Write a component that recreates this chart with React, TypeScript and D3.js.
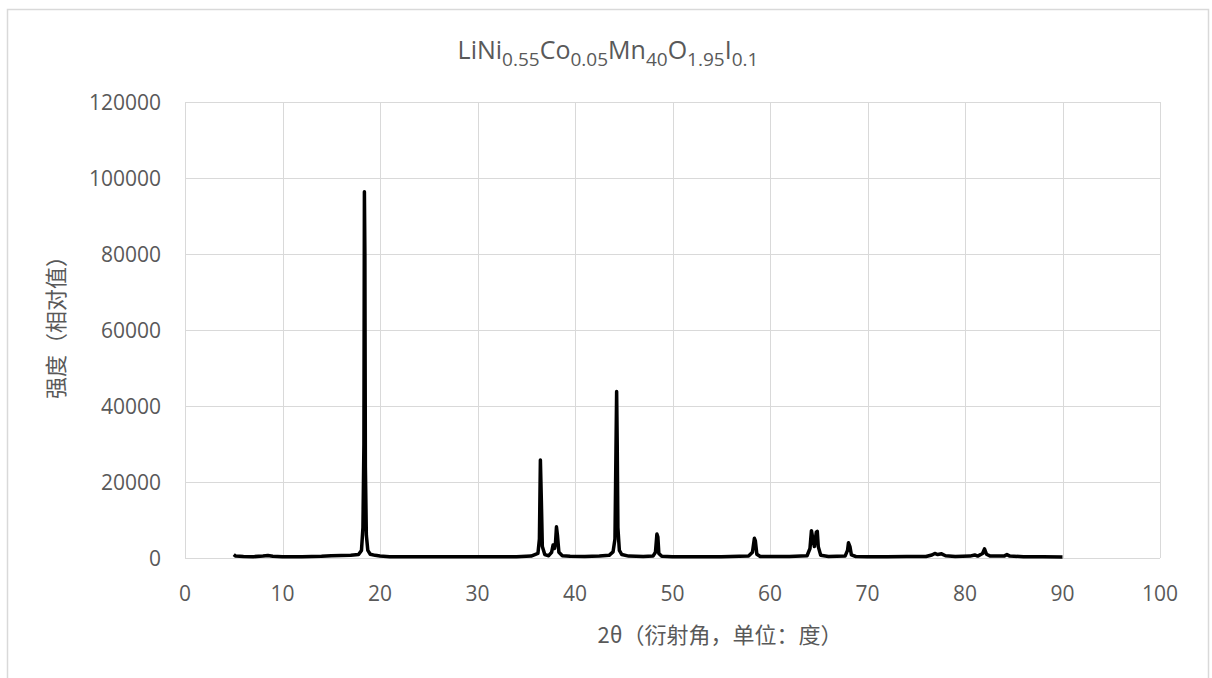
import React from "react";
import * as d3 from "d3";

const twoTheta = [
  5.0, 5.2, 6, 7, 8, 8.5, 9, 10, 11, 12, 13, 14, 15, 16, 17, 17.8, 18.1, 18.25, 18.35, 18.4, 18.45, 18.5, 18.6, 18.75, 19.0, 19.5, 20, 21, 22, 25, 28, 30, 32, 34,
  35.5, 36.2, 36.35, 36.45, 36.55, 36.65, 36.9, 37.3, 37.6, 37.75, 37.9, 38.0, 38.1, 38.2, 38.35, 38.7, 39.5, 41, 42.5, 43.5, 43.9, 44.1, 44.2, 44.27, 44.33, 44.4,
  44.55, 44.8, 45.5, 47, 48, 48.25, 48.4, 48.5, 48.6, 48.9, 50, 52, 55, 57.8, 58.2, 58.4, 58.5, 58.65, 59, 60, 62, 63.8, 64.1, 64.25, 64.4, 64.55, 64.75, 64.85,
  64.95, 65.2, 66, 67.7, 67.95, 68.05, 68.2, 68.35, 68.8, 70, 72, 74, 76, 76.6, 76.9, 77.2, 77.6, 78, 79, 80.5, 81, 81.3, 81.8, 82.0, 82.2, 82.6, 84, 84.3, 84.6,
  86, 88, 90,
];
const intensity = [
  900, 500, 400, 350, 500, 650, 450, 350, 350, 350, 400, 450, 600, 650, 700, 900, 2000, 8000, 30000, 96400, 80000, 24000, 6000, 2000, 1000, 700, 500, 350, 300, 300, 300, 300, 320, 350,
  500, 1200, 5000, 25800, 15000, 3000, 900, 600, 1500, 3400, 2500, 4000, 8200, 6000, 1500, 600, 450, 400, 500, 700, 1600, 5000, 28000, 43800, 30000, 8000,
  2000, 900, 500, 400, 500, 1500, 6300, 5500, 1200, 450, 350, 350, 350, 500, 1500, 5200, 4500, 1000, 400, 380, 400, 600, 2500, 7200, 5000, 3000, 6800, 7000,
  3000, 700, 400, 500, 2000, 4000, 3000, 800, 400, 350, 350, 380, 400, 800, 1200, 900, 1100, 600, 400, 500, 800, 500, 1200, 2400, 1000, 500, 500, 900, 500,
  350, 300, 250,
];

const xTicks = [0, 10, 20, 30, 40, 50, 60, 70, 80, 90, 100];
const yTicks = [0, 20000, 40000, 60000, 80000, 100000, 120000];

const titleParts: [string, boolean][] = [
  ["LiNi", false], ["0.55", true], ["Co", false], ["0.05", true], ["Mn", false], ["40", true],
  ["O", false], ["1.95", true], ["I", false], ["0.1", true],
];

const yTitle = "强度（相对值）";
const xTitle = "2θ（衍射角，单位：度）";

export default function App() {
  const W = 1212, H = 678;
  const left = 185, right = 1160, top = 102, bottom = 558;
  const x = d3.scaleLinear().domain([0, 100]).range([left, right]);
  const y = d3.scaleLinear().domain([0, 120000]).range([bottom, top]);
  const pts: [number, number][] = twoTheta.map((t, i) => [t, intensity[i]]);
  const line = d3.line<[number, number]>().x((d) => x(d[0])).y((d) => y(d[1]));
  const font = "'Open Sans', 'Noto Sans', sans-serif";
  const cjk = "'Noto Sans CJK SC', sans-serif";
  const grey = "#595959";
  return (
    <svg width={W} height={H} style={{ position: "absolute", left: 0, top: 0, background: "#fff" }}>
      <rect x={0} y={0} width={W} height={H} fill="#fff" />
      <rect x={7.5} y={9.5} width={1201} height={720} fill="#fff" stroke="#d9d9d9" strokeWidth={1.5} />
      {yTicks.map((t) => (
        <line key={"gy" + t} x1={left} x2={right} y1={Math.round(y(t)) + 0.5} y2={Math.round(y(t)) + 0.5} stroke="#d9d9d9" strokeWidth={1} />
      ))}
      {xTicks.map((t) => (
        <line key={"gx" + t} x1={Math.round(x(t)) + 0.5} x2={Math.round(x(t)) + 0.5} y1={top} y2={bottom} stroke="#d9d9d9" strokeWidth={1} />
      ))}
      {yTicks.map((t) => (
        <text key={"ty" + t} x={161} y={y(t) + 8} textAnchor="end" fontFamily={font} fontSize={21} fill={grey}>
          {t}
        </text>
      ))}
      {xTicks.map((t) => (
        <text key={"tx" + t} x={x(t)} y={601} textAnchor="middle" fontFamily={font} fontSize={21} fill={grey}>
          {t}
        </text>
      ))}
      <path d={line(pts) || ""} fill="none" stroke="#000" strokeWidth={3.5} strokeLinejoin="round" />
      <text x={608} y={59} textAnchor="middle" fontFamily={font} fontSize={25} fill={grey}>
        {titleParts.map(([s, sub], i) => (
          <tspan key={i} fontSize={sub ? 19 : 25} dy={i === 0 ? 0 : sub ? 7 : -7}>
            {s}
          </tspan>
        ))}
      </text>
      <text transform="translate(64,322) rotate(-90)" textAnchor="middle" fontFamily={cjk} fontSize={22} fill={grey}>
        {yTitle}
      </text>
      <text x={720} y={643} textAnchor="middle" fontFamily={cjk} fontSize={22} fill={grey}>
        {xTitle}
      </text>
    </svg>
  );
}
